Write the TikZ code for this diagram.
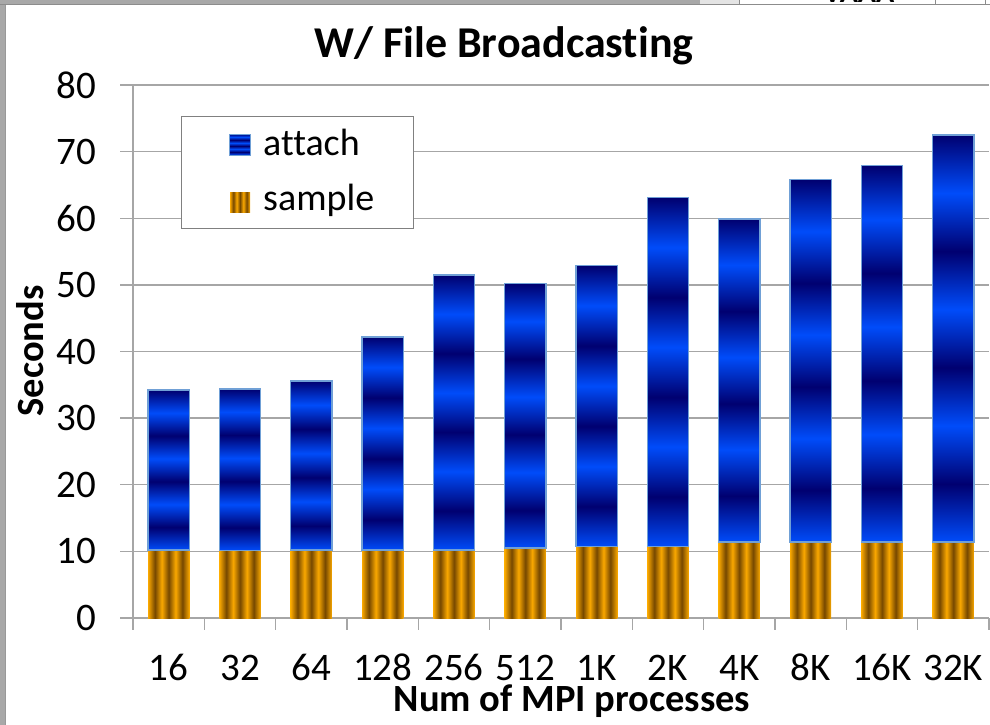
\documentclass[tikz,border=0pt]{standalone}
\usepackage{fontspec}
\setmainfont{Carlito}[Ligatures={NoCommon}]
\definecolor{gridgray}{RGB}{166,166,166}
\definecolor{framegray}{RGB}{168,168,168}
\definecolor{cellgray}{RGB}{228,228,228}
\definecolor{legendgray}{RGB}{128,128,128}
\definecolor{bnavy}{RGB}{0,0,112}
\definecolor{bblue}{RGB}{0,76,250}
\definecolor{obright}{RGB}{250,168,0}
\definecolor{odark}{RGB}{118,72,0}
\definecolor{barline}{RGB}{112,160,214}

% horizontal stripes of the "attach" series: dark at the top, bright at the bottom
\pgfdeclareverticalshading{attachshade}{100bp}{color(0bp)=(bblue); color(25bp)=(bblue);
  color(32.143bp)=(bnavy); color(39.286bp)=(bblue); color(46.429bp)=(bnavy);
  color(53.571bp)=(bblue); color(60.714bp)=(bnavy); color(67.857bp)=(bblue);
  color(75bp)=(bnavy); color(100bp)=(bnavy)}
% vertical stripes of the "sample" series
\pgfdeclarehorizontalshading{sampleshade}{100bp}{color(0bp)=(obright); color(25bp)=(obright);
  color(33.333bp)=(odark); color(41.667bp)=(obright); color(50bp)=(odark);
  color(58.333bp)=(obright); color(66.667bp)=(odark); color(75bp)=(obright);
  color(100bp)=(obright)}

\tikzset{
  gridline/.style={draw=gridgray, line width=1.3pt},
  ticklab/.style={inner sep=0pt, font=\fontsize{39}{42}\selectfont},
  axistitle/.style={inner sep=0pt, font=\fontsize{38.5}{42}\selectfont\bfseries},
  charttitle/.style={inner sep=0pt, font=\fontsize{44}{48}\selectfont\bfseries},
  legtext/.style={inner sep=0pt, anchor=base west, font=\fontsize{38}{42}\selectfont},
  attachbar/.style={shading=attachshade, draw=barline, line width=1.4pt},
  samplebar/.style={shading=sampleshade},
}

\begin{document}
\begin{tikzpicture}[x=1pt, y=-1pt]
\useasboundingbox (0,0) rectangle (990,725);
\fill[white] (0,0) rectangle (990,725);

% window edges
\fill[framegray] (0,0) rectangle (6,725);
\draw[gray!80, line width=1pt] (5.5,0) -- (5.5,725);
\fill[framegray] (0,0) rectangle (700,4);
\fill[cellgray] (700,0) rectangle (739,4);
\draw[gray!90, line width=1pt] (0,4.2) -- (990,4.2);
\draw[gray!90, line width=1pt] (739,0) -- (739,4.2) (935,0) -- (935,4.2) (985,0) -- (985,4.2);
\begin{scope}
  \clip (739,0) rectangle (935,4);
  \node[inner sep=0pt, anchor=base, font=\fontsize{30}{32}\selectfont\bfseries] (cellfrag) at (859,3) {VAAA};
\end{scope}

% gridlines and axes
\foreach \v in {1,...,8} {
  \draw[gridline] (120,618-\v*66.625) -- (989,618-\v*66.625);
}
\draw[gridline] (120,618) -- (989,618);
\draw[gridline] (133,85) -- (133,630);
\foreach \k in {1,...,12} {
  \draw[gridline] (133+\k*71.33,618) -- (133+\k*71.33,630);
}

% y tick labels
\foreach \v in {0,...,8} {
  \pgfmathtruncatemacro\val{\v*10}
  \node[ticklab, anchor=east] (y\v) at (96,618-\v*66.625) {\val};
}

% stacked bars: index / label / sample / total
\foreach \i/\lab/\s/\t in {1/16/10.2/34.2, 2/32/10.1/34.4, 3/64/10.2/35.6,
    4/128/10.2/42.2, 5/256/10.2/51.5, 6/512/10.5/50.2, 7/1K/10.7/52.9,
    8/2K/10.7/63.1, 9/4K/11.4/59.9, 10/8K/11.4/65.8, 11/16K/11.4/67.9,
    12/32K/11.4/72.5} {
  \pgfmathsetmacro\cx{133+(\i-0.5)*71.33}
  \pgfmathsetmacro\ys{618-\s*6.6625}
  \pgfmathsetmacro\yt{618-\t*6.6625}
  \shade[samplebar] (\cx-20.6,618) rectangle (\cx+20.6,\ys);
  \shadedraw[attachbar] (\cx-20.6,\ys) rectangle (\cx+20.6,\yt);
  \node[ticklab, anchor=base] (x\i) at (\cx,680) {\lab};
}

% titles
\node[charttitle, anchor=base] (title) at (504,58) {W/ File Broadcasting};
\node[axistitle, anchor=base] (xtitle) at (572,711) {Num of MPI processes};
\node[axistitle, anchor=base, rotate=90] (ytitle) at (43,351) {Seconds};

% legend
\node[draw=legendgray, fill=white, line width=1.3pt, minimum width=232pt,
      minimum height=112pt, inner sep=0pt, anchor=north west] (legend) at (181,116) {};
\shadedraw[attachbar, line width=1pt] (229.5,134) rectangle (250.5,155);
\shade[samplebar] (230,192) rectangle (250,212);
\node[legtext] (legattach) at (263,155) {attach};
\node[legtext] (legsample) at (263,210) {sample};
\end{tikzpicture}
\end{document}
